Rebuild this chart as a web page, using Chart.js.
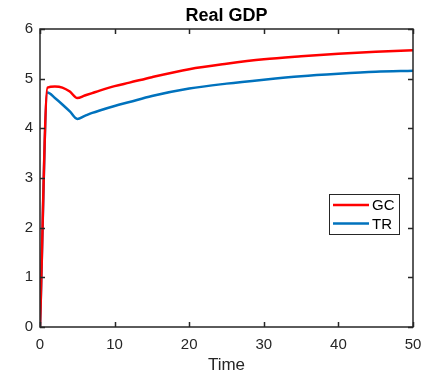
<!DOCTYPE html>
<html><head><meta charset="utf-8">
<script src="https://cdn.jsdelivr.net/npm/chart.js@4/dist/chart.umd.min.js"></script>
<style>html,body{margin:0;padding:0;background:#fff;}#wrap{width:437px;height:376px;}</style>
</head><body><div id="wrap"><canvas id="c" width="437" height="376"></canvas></div>
<script>
const titleText = "Real GDP";
const xLabel = "Time";
const seriesNames = ["GC", "TR"];
const times = [0, 1, 2, 3, 4, 5, 6, 7, 8, 10, 12, 15, 20, 25, 30, 35, 40, 45, 50];
const gcValues = [0, 4.82, 4.84, 4.82, 4.74, 4.61, 4.66, 4.71, 4.76, 4.85, 4.92, 5.03, 5.19, 5.30, 5.39, 5.45, 5.50, 5.54, 5.57];
const trValues = [0, 4.72, 4.61, 4.48, 4.34, 4.19, 4.25, 4.31, 4.36, 4.45, 4.53, 4.65, 4.80, 4.90, 4.98, 5.05, 5.10, 5.14, 5.16];
const xTicks = [0, 10, 20, 30, 40, 50];
const yTicks = [0, 1, 2, 3, 4, 5, 6];

const FONT = "'Liberation Sans', Arial, sans-serif";
const AX = '#262626';

const pts = (vals) => times.map((t, i) => ({x: t, y: vals[i]}));

const boxPlugin = {
  id: 'matlabBox',
  afterDraw(chart) {
    const ctx = chart.ctx, a = chart.chartArea;
    const xs = chart.scales.x, ys = chart.scales.y;
    ctx.save();
    ctx.strokeStyle = AX;
    ctx.lineWidth = 1.5;
    ctx.strokeRect(a.left, a.top, a.right - a.left, a.bottom - a.top);
    ctx.beginPath();
    const L = 5;
    xTicks.forEach(v => {
      const p = Math.round(xs.getPixelForValue(v)) + 0.5;
      ctx.moveTo(p, a.bottom); ctx.lineTo(p, a.bottom - L);
      ctx.moveTo(p, a.top); ctx.lineTo(p, a.top + L);
    });
    yTicks.forEach(v => {
      const p = Math.round(ys.getPixelForValue(v)) + 0.5;
      ctx.moveTo(a.left, p); ctx.lineTo(a.left + L, p);
      ctx.moveTo(a.right, p); ctx.lineTo(a.right - L, p);
    });
    ctx.stroke();
    // title
    ctx.fillStyle = '#000';
    ctx.font = 'bold 18px ' + FONT;
    ctx.textAlign = 'center';
    ctx.textBaseline = 'middle';
    ctx.fillText(titleText, (a.left + a.right) / 2, 16);
    // legend
    const bx = 329.5, by = 194.5, bw = 70, bh = 40;
    ctx.fillStyle = '#fff';
    ctx.fillRect(bx, by, bw, bh);
    ctx.lineWidth = 1;
    ctx.strokeStyle = AX;
    ctx.strokeRect(bx, by, bw, bh);
    const cols = chart.data.datasets.map(d => d.borderColor);
    const rows = [205, 223.5];
    ctx.font = '15px ' + FONT;
    ctx.textAlign = 'left';
    chart.data.datasets.forEach((d, i) => {
      ctx.strokeStyle = cols[i];
      ctx.lineWidth = 2.5;
      ctx.beginPath();
      ctx.moveTo(333, rows[i]); ctx.lineTo(369, rows[i]);
      ctx.stroke();
      ctx.fillStyle = '#000';
      ctx.fillText(d.label, 372, rows[i] + 1);
    });
    ctx.restore();
  }
};

new Chart(document.getElementById('c'), {
  type: 'line',
  data: {
    datasets: [
      {label: seriesNames[0], data: pts(gcValues), borderColor: '#FF0000', borderWidth: 2.5, pointRadius: 0, tension: 0, cubicInterpolationMode: 'monotone', fill: false},
      {label: seriesNames[1], data: pts(trValues), borderColor: '#0072BD', borderWidth: 2.5, pointRadius: 0, tension: 0, cubicInterpolationMode: 'monotone', fill: false}
    ]
  },
  options: {
    responsive: false,
    animation: false,
    devicePixelRatio: 1,
    layout: {padding: {left: 0, right: 24, top: 29, bottom: 0}},
    plugins: {legend: {display: false}, title: {display: false}, tooltip: {enabled: false}},
    scales: {
      x: {
        type: 'linear', min: 0, max: 50,
        afterFit(s) { s.height = 49; },
        afterBuildTicks(s) { s.ticks = xTicks.map(v => ({value: v})); },
        grid: {display: false, drawTicks: false},
        border: {display: false},
        ticks: {color: AX, font: {family: FONT, size: 15}, padding: 9, maxRotation: 0},
        title: {display: true, text: xLabel, color: AX, font: {family: FONT, size: 17}, padding: {top: 0, bottom: 0}}
      },
      y: {
        type: 'linear', min: 0, max: 6,
        afterFit(s) { s.width = 40; },
        afterBuildTicks(s) { s.ticks = yTicks.map(v => ({value: v})); },
        grid: {display: false, drawTicks: false},
        border: {display: false},
        ticks: {color: AX, font: {family: FONT, size: 15}, padding: 7}
      }
    }
  },
  plugins: [boxPlugin]
});
</script>
</body></html>
